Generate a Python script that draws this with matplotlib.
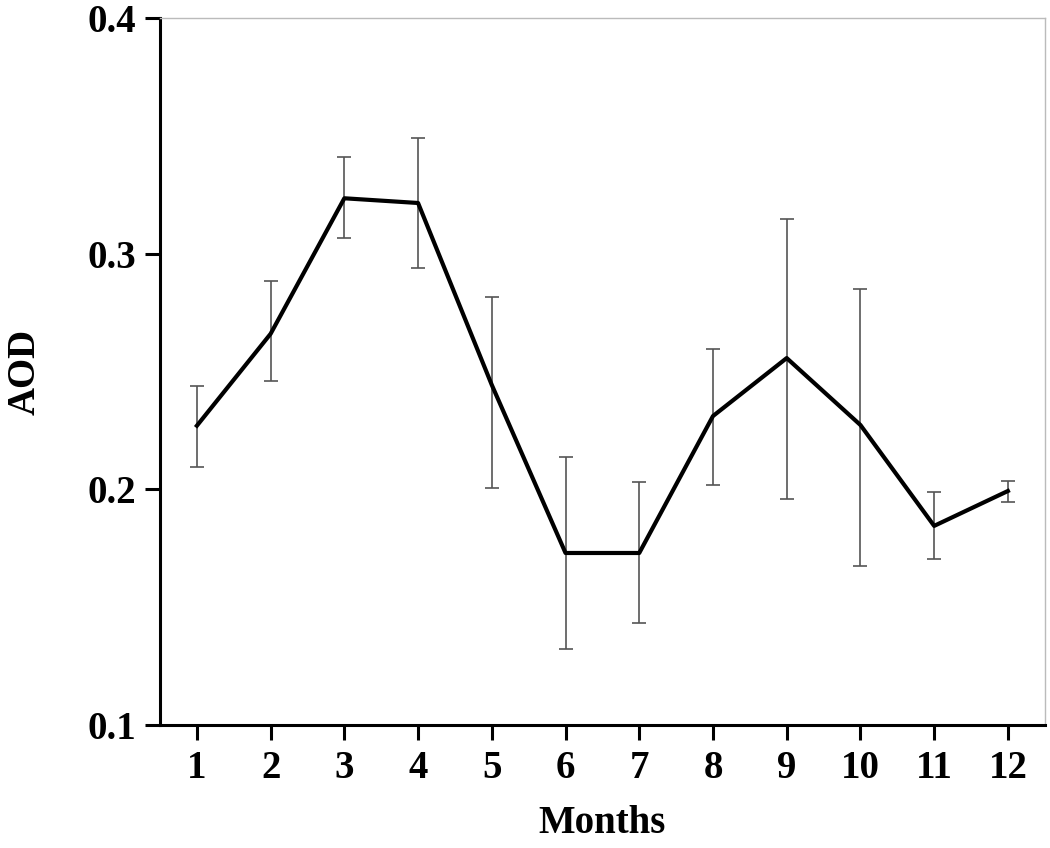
import matplotlib
matplotlib.use("Agg")
import matplotlib.pyplot as plt

months = list(range(1, 13))
aod = [0.227, 0.266, 0.3235, 0.3215, 0.2443, 0.173, 0.173, 0.2311, 0.2557, 0.2273, 0.1845, 0.1993]
err_upper = [0.244, 0.2884, 0.341, 0.349, 0.2816, 0.2137, 0.203, 0.2596, 0.3147, 0.285, 0.1989, 0.2036]
err_lower = [0.2095, 0.246, 0.3067, 0.294, 0.2006, 0.1323, 0.1433, 0.2019, 0.1959, 0.1675, 0.1705, 0.1947]

yerr = [[m - lo for m, lo in zip(aod, err_lower)], [hi - m for m, hi in zip(aod, err_upper)]]

plt.rcParams["font.family"] = ["Liberation Serif", "DejaVu Serif"]
plt.rcParams["font.weight"] = "bold"

fig = plt.figure(figsize=(10.5, 8.48), dpi=100)
ax = fig.add_axes([0.1524, 0.145, 0.8426, 0.8338])

ax.errorbar(months, aod, yerr=yerr, fmt="none", ecolor="#555555", elinewidth=1.2, capsize=5, capthick=1.2, zorder=2)
ax.plot(months, aod, color="black", linewidth=3, zorder=3)

ax.set_xlim(0.5, 12.5)
ax.set_ylim(0.1, 0.4)
ax.set_xticks(months)
ax.set_yticks([0.1, 0.2, 0.3, 0.4])
ax.set_yticklabels(["0.1", "0.2", "0.3", "0.4"])

for side in ("left", "bottom"):
    ax.spines[side].set_linewidth(2.2)
    ax.spines[side].set_color("black")
for side in ("top", "right"):
    ax.spines[side].set_linewidth(1.0)
    ax.spines[side].set_color("#bbbbbb")

ax.tick_params(axis="both", direction="out", length=11, width=2.2, labelsize=28)
ax.tick_params(axis="y", pad=6)
ax.tick_params(axis="x", pad=7)

ax.set_xlabel("Months", fontsize=28, fontweight="bold", labelpad=13)
ax.set_ylabel("AOD", fontsize=28, fontweight="bold", labelpad=32)

fig.savefig("out.png", dpi=100)
